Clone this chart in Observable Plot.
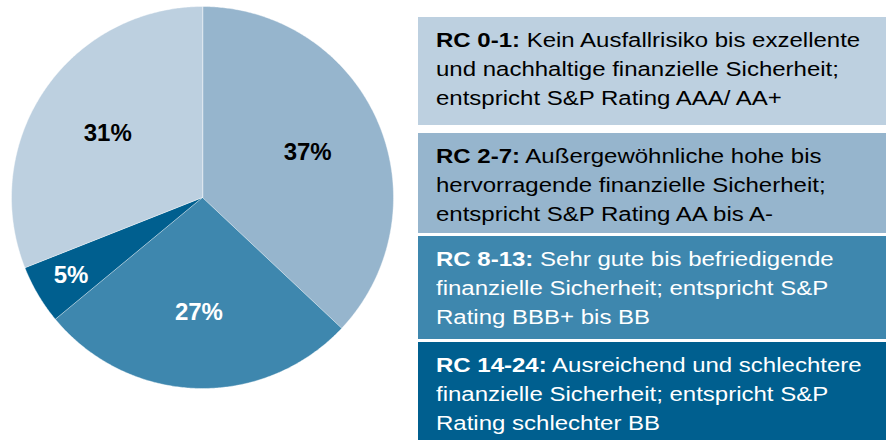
<!DOCTYPE html>
<html><head><meta charset="utf-8">
<script src="https://cdn.jsdelivr.net/npm/d3@7"></script>
<script src="https://cdn.jsdelivr.net/npm/@observablehq/plot@0.6"></script>
<style>
html,body{margin:0;padding:0;background:#fff;}
#wrap{position:relative;width:886px;height:440px;overflow:hidden;font-family:"Liberation Sans",Arial,sans-serif;}
#pie{position:absolute;left:0;top:0;}
.box{position:absolute;left:418px;width:468px;box-sizing:border-box;padding:8.5px 0 0 18px;}
.txt{font-size:20px;line-height:29px;transform:scaleX(1.2);transform-origin:0 0;white-space:nowrap;}
</style></head><body>
<div id="wrap"><div id="pie"></div><div id="legend"></div></div>
<script>
// ---- data ----
const categories = ["RC 0-1", "RC 2-7", "RC 8-13", "RC 14-24"];
const shares = [31, 37, 27, 5];
const colors = ["#bdd0e0", "#96b5cd", "#3e87ae", "#005f8f"];
const textColors = ["#000000", "#000000", "#ffffff", "#ffffff"];
const descriptions = [
  ["Kein Ausfallrisiko bis exzellente", "und nachhaltige finanzielle Sicherheit;", "entspricht S&P Rating AAA/ AA+"],
  ["Außergewöhnliche hohe bis", "hervorragende finanzielle Sicherheit;", "entspricht S&P Rating AA bis A-"],
  ["Sehr gute bis befriedigende", "finanzielle Sicherheit; entspricht S&P", "Rating BBB+ bis BB"],
  ["Ausreichend und schlechtere", "finanzielle Sicherheit; entspricht S&P", "Rating schlechter BB"]
];
const pieStart = "RC 2-7";

// ---- pie geometry from data ----
const startIdx = categories.indexOf(pieStart);
const order = categories.map((_, i) => (i + startIdx) % categories.length);
const total = d3.sum(shares);
let acc = 0;
const slices = order.map(i => {
  const a0 = acc / total * 2 * Math.PI;
  acc += shares[i];
  const a1 = acc / total * 2 * Math.PI;
  return {cat: categories[i], value: shares[i], a0, a1, i};
});
const pts = [];
for (const s of slices) {
  pts.push({cat: s.cat, x: 0, y: 0});
  const n = Math.max(2, Math.ceil((s.a1 - s.a0) / (Math.PI / 360)));
  for (let k = 0; k <= n; k++) {
    const a = s.a0 + (s.a1 - s.a0) * k / n;
    pts.push({cat: s.cat, x: Math.sin(a), y: Math.cos(a)});
  }
}
const labels = slices.map(s => {
  const m = (s.a0 + s.a1) / 2;
  const r = s.value < 10 ? 0.8 : 0.6;
  return {x: r * Math.sin(m), y: r * Math.cos(m), text: s.value + "%", tc: textColors[s.i]};
});
const font = '"Liberation Sans", Arial, sans-serif';
const textMarks = [...new Set(textColors)].map(c =>
  Plot.text(labels.filter(d => d.tc === c), {x: "x", y: "y", text: "text", fill: c,
    fontSize: 24, fontWeight: "bold", fontFamily: font}));

const chart = Plot.plot({
  width: 410, height: 440, margin: 0,
  x: {domain: [-1, 1], range: [11, 393], axis: null},
  y: {domain: [-1, 1], range: [388, 6], axis: null},
  color: {domain: categories, range: colors},
  style: {fontFamily: font, background: "white"},
  marks: [
    Plot.line(pts, {x: "x", y: "y", z: "cat", fill: "cat", stroke: "white",
      strokeWidth: 0.6, strokeOpacity: 0.7, curve: "linear-closed"}),
    ...textMarks
  ]
});
document.getElementById("pie").append(chart);

// ---- legend boxes ----
const boxTop = [17, 133, 236, 342];
const boxHeight = [108, 100, 103, 98];
const legend = document.getElementById("legend");
categories.forEach((c, i) => {
  const box = document.createElement("div");
  box.className = "box";
  box.style.top = boxTop[i] + "px";
  box.style.height = boxHeight[i] + "px";
  box.style.background = colors[i];
  const t = document.createElement("div");
  t.className = "txt";
  t.style.color = textColors[i];
  const b = document.createElement("b");
  b.textContent = c + ":";
  t.append(b, " " + descriptions[i][0]);
  for (const line of descriptions[i].slice(1)) {
    t.append(document.createElement("br"), line);
  }
  box.append(t);
  legend.append(box);
});
</script>
</body></html>
